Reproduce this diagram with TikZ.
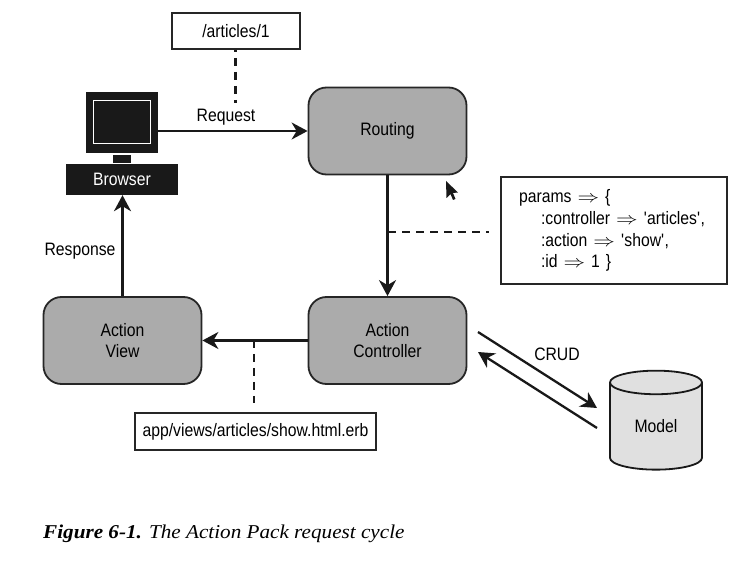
\documentclass[tikz,border=0pt]{standalone}
\usepackage{fontspec}
\usetikzlibrary{arrows.meta,shapes.geometric}
\newfontfamily\labelfont[FakeStretch=0.875]{Liberation Sans}
\newfontfamily\capfont[FakeStretch=1.08]{Liberation Serif}
\newcommand{\paramarrow}{\scalebox{1.25}[1]{$\Rightarrow$}}
\tikzset{
  procbox/.style={draw=black!85,line width=1.8pt,fill=black!33,rounded corners=18pt,minimum width=158pt,minimum height=87pt,align=center,font=\labelfont\fontsize{18}{21.5}\selectfont},
  notebox/.style={draw=black!85,line width=1.8pt,fill=white,inner sep=0pt,font=\labelfont\fontsize{18}{21.7}\selectfont},
  flow/.style={->,line width=2.3pt,draw=black!90},
  dashlink/.style={line width=2.3pt,draw=black!90,dash pattern=on 8pt off 6pt},
  lbl/.style={font=\labelfont\fontsize{18}{22}\selectfont}
}
\begin{document}
\begin{tikzpicture}[x=1pt,y=-1pt,>={Stealth[length=16pt,width=17pt,inset=5pt]}]
\useasboundingbox (0,0) rectangle (756,572);
\node[notebox,minimum width=128pt,minimum height=36pt] (urlbox) at (236,31) {/articles/1};
\node[fill=black!90,minimum width=72pt,minimum height=61pt,inner sep=0pt] (monitor) at (122,122.5) {};
\node[fill=black!90,draw=white,line width=1.6pt,minimum width=57pt,minimum height=43pt,inner sep=0pt] (screen) at (122,122) {};
\node[fill=black!90,minimum width=18pt,minimum height=8pt,inner sep=0pt] (stand) at (122,159) {};
\node[fill=black!90,text=white,minimum width=112pt,minimum height=31pt,inner sep=0pt,font=\labelfont\fontsize{18}{22}\selectfont] (browser) at (122,179.5) {Browser};
\node[procbox] (routing) at (387.5,131) {Routing};
\node[procbox] (controller) at (387.5,340.5) {Action\\Controller};
\node[procbox] (view) at (122.5,340.5) {Action\\View};
\node[notebox,text width=190pt,inner xsep=18pt,minimum height=107pt,align=left] (paramsbox) at (614,230.5) {%
  params \paramarrow\ \{\\
  \hspace*{22pt}:controller \paramarrow\ \textquotesingle articles\textquotesingle,\\
  \hspace*{22pt}:action \paramarrow\ \textquotesingle show\textquotesingle,\\
  \hspace*{22pt}:id \paramarrow\ 1 \}};
\node[notebox,minimum width=241pt,minimum height=37pt] (viewbox) at (255.5,431.5) {app/views/articles/show.html.erb};
\node[cylinder,shape border rotate=90,aspect=0.55,draw=black!90,line width=1.8pt,fill=black!12,minimum width=92pt,minimum height=99pt,inner sep=0pt,font=\labelfont\fontsize{18}{22}\selectfont] (model) at (656,426.5) {Model};
\node[lbl] (requestlbl) at (226,117) {Request};
\node[lbl] (responselbl) at (80,251) {Response};
\node[lbl] (crudlbl) at (557,354) {CRUD};
\node[font=\capfont\fontsize{19.6}{22}\selectfont,anchor=west,inner sep=0pt] (caption) at (43,533.5) {\textbf{\textit{Figure 6-1.}} \textit{The Action Pack request cycle}};
\coordinate (urlend) at (235.5,103);
\coordinate (paramsstart) at (388,232);
\coordinate (viewstart) at (254,340);
\coordinate (crudatop) at (478,332);
\coordinate (crudaend) at (597,408);
\coordinate (crudbtop) at (597,428);
\coordinate (crudbend) at (478,352);
\draw [dashlink,dash phase=6pt] (urlend |- urlbox.south) -- (urlend);
\draw [dashlink] (paramsstart) -- ([xshift=-11pt]paramsstart -| paramsbox.west);
\draw [dashlink,shorten >=9pt] (viewstart) -- (viewstart |- viewbox.north);
\draw [flow] (monitor.east |- routing.west) -- (routing.west);
\draw [flow] (routing.south) -- (controller.north);
\draw [flow] (controller.west) -- (view.east);
\draw [flow] (view.north) -- (view.north |- browser.south);
\draw [flow] (crudatop) -- (crudaend);
\draw [flow] (crudbtop) -- (crudbend);
\fill [black!90] (446,181) -- (446.5,198) -- (450.5,194) -- (453,200) -- (455.5,199) -- (453,193) -- (458,192.5) -- cycle;
\end{tikzpicture}
\end{document}
